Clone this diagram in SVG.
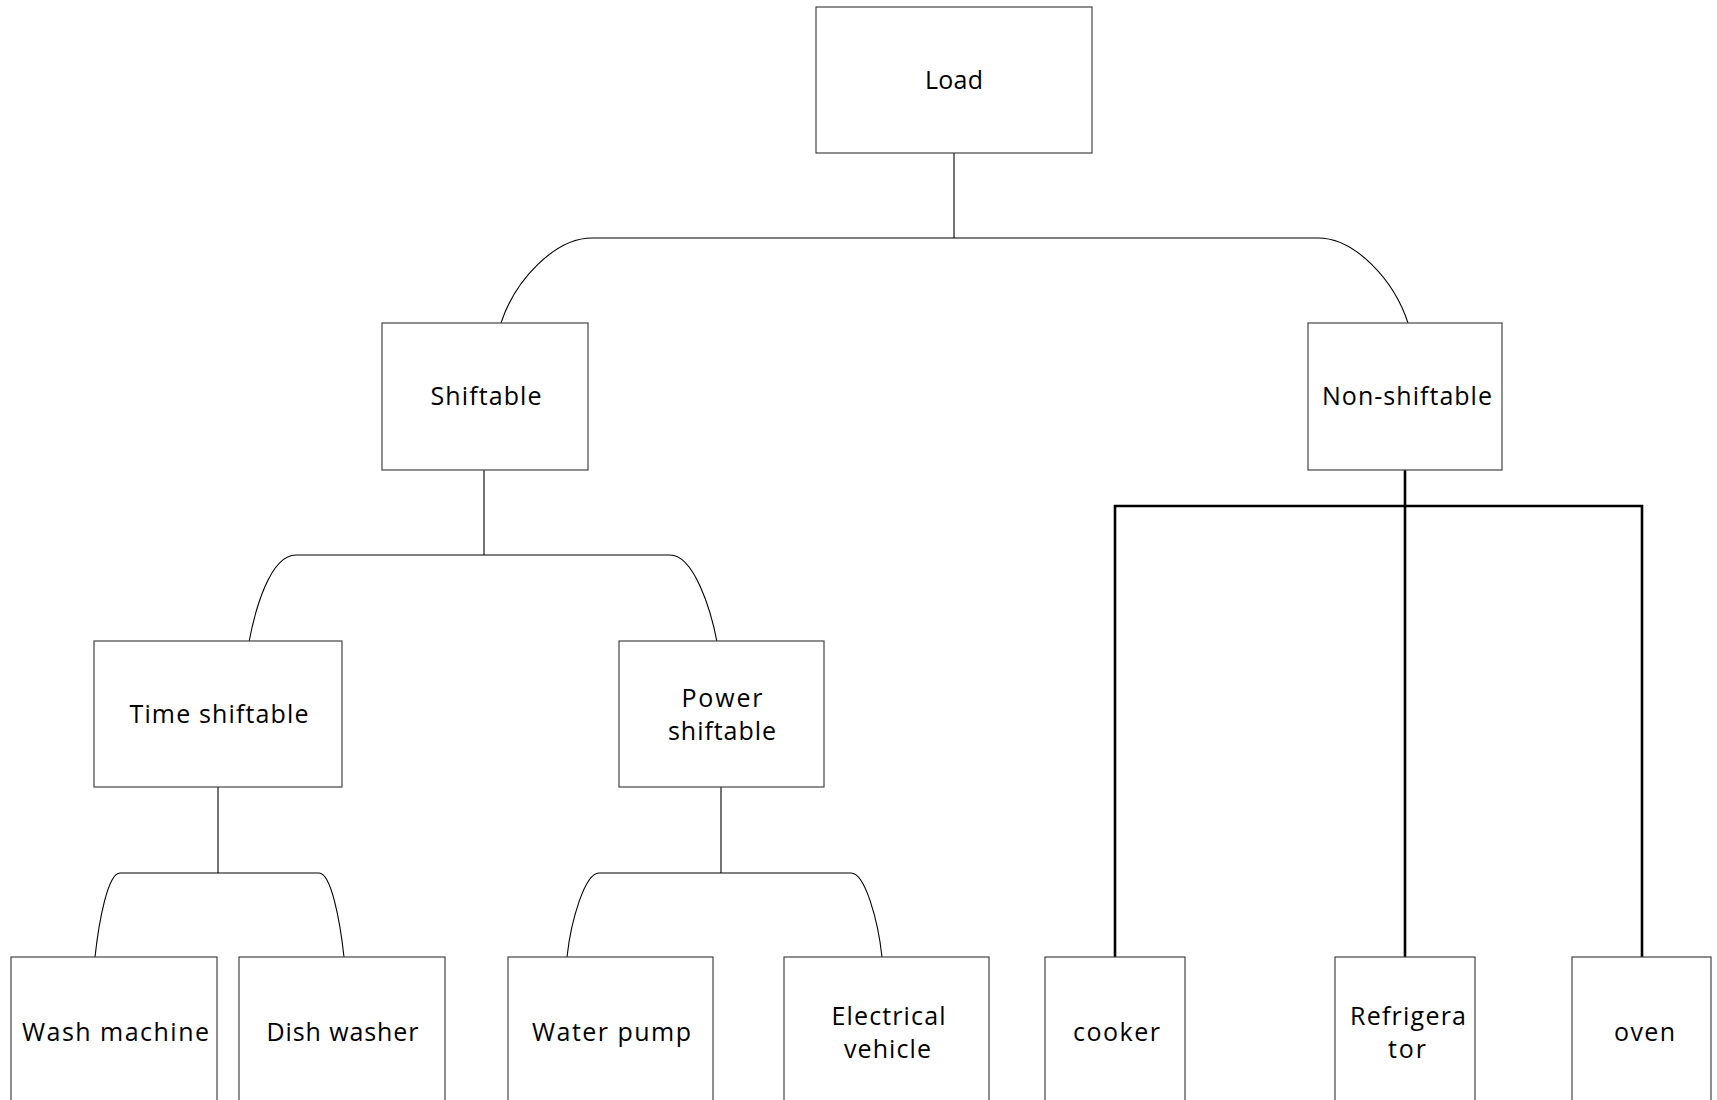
<svg xmlns="http://www.w3.org/2000/svg" width="1717" height="1100" viewBox="0 0 1717 1100">
<style>
.box{fill:#ffffff;stroke:#444444;stroke-width:1.2}
.lbl{font-family:"Open Sans","Noto Sans","Liberation Sans",sans-serif;font-size:25px;fill:#000000;text-anchor:middle}
.thin{fill:none;stroke:#000000;stroke-width:1.1}
.thick{fill:none;stroke:#000000;stroke-width:2.6}
</style>
<rect width="1717" height="1100" fill="#ffffff"/>
<g id="connectors">
<path class="thin" d="M954,153 V238"/>
<path class="thin" d="M501,323 C515,280 555,238 592,238 H1318 C1355,238 1394,280 1408,323"/>
<path class="thin" d="M484,470 V555"/>
<path class="thin" d="M249,642 C255,610 270,555 296,555 H670 C694,555 711,610 717,642"/>
<path class="thin" d="M218,787 V873"/>
<path class="thin" d="M95,957 C99,920 108,873 120,873 H319 C331,873 340,920 344,957"/>
<path class="thin" d="M721,787 V873"/>
<path class="thin" d="M567,957 C571,920 585,873 599,873 H851 C865,873 878,920 882,957"/>
<path class="thick" d="M1405,470 V957"/>
<path class="thick" d="M1115,957 V506 H1642 V957"/>
</g>
<g id="load"><rect class="box" x="816" y="7" width="276" height="146"/><text class="lbl" x="954" y="89" textLength="58" lengthAdjust="spacing">Load</text></g>
<g id="shiftable"><rect class="box" x="382" y="323" width="206" height="147"/><text class="lbl" x="486" y="405" textLength="111" lengthAdjust="spacing">Shiftable</text></g>
<g id="non-shiftable"><rect class="box" x="1308" y="323" width="194" height="147"/><text class="lbl" x="1407" y="405" textLength="170" lengthAdjust="spacing">Non-shiftable</text></g>
<g id="time-shiftable"><rect class="box" x="94" y="641" width="248" height="146"/><text class="lbl" x="219" y="723" textLength="179" lengthAdjust="spacing">Time shiftable</text></g>
<g id="power-shiftable"><rect class="box" x="619" y="641" width="205" height="146"/><text class="lbl" x="722" y="707" textLength="81" lengthAdjust="spacing">Power</text><text class="lbl" x="722" y="740" textLength="108" lengthAdjust="spacing">shiftable</text></g>
<g id="wash-machine"><rect class="box" x="11" y="957" width="206" height="160"/><text class="lbl" x="115.5" y="1041" textLength="187" lengthAdjust="spacing">Wash machine</text></g>
<g id="dish-washer"><rect class="box" x="239" y="957" width="206" height="160"/><text class="lbl" x="342.5" y="1041" textLength="152" lengthAdjust="spacing">Dish washer</text></g>
<g id="water-pump"><rect class="box" x="508" y="957" width="205" height="160"/><text class="lbl" x="611.5" y="1041" textLength="159" lengthAdjust="spacing">Water pump</text></g>
<g id="electrical-vehicle"><rect class="box" x="784" y="957" width="205" height="160"/><text class="lbl" x="888.5" y="1025" textLength="114" lengthAdjust="spacing">Electrical</text><text class="lbl" x="887.5" y="1058" textLength="87" lengthAdjust="spacing">vehicle</text></g>
<g id="cooker"><rect class="box" x="1045" y="957" width="140" height="160"/><text class="lbl" x="1116.5" y="1041" textLength="87" lengthAdjust="spacing">cooker</text></g>
<g id="refrigerator"><rect class="box" x="1335" y="957" width="140" height="160"/><text class="lbl" x="1408" y="1025" textLength="116" lengthAdjust="spacing">Refrigera</text><text class="lbl" x="1407" y="1058" textLength="38" lengthAdjust="spacing">tor</text></g>
<g id="oven"><rect class="box" x="1572" y="957" width="139" height="160"/><text class="lbl" x="1644.5" y="1041" textLength="61" lengthAdjust="spacing">oven</text></g>
</svg>
